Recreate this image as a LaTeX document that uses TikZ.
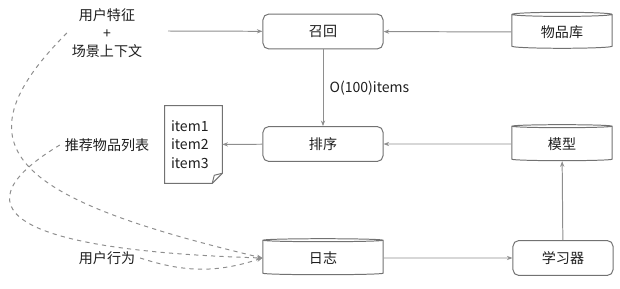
\documentclass[tikz,border=0pt]{standalone}
\usepackage{fontspec}
\setmainfont{Noto Sans CJK SC}
\usepackage{xcolor}
\definecolor{edgegray}{HTML}{727272}
\definecolor{linegray}{HTML}{8E8E8E}
\definecolor{txt}{HTML}{1E1E1E}
\usetikzlibrary{arrows.meta, positioning, shapes.geometric}

\begin{document}
\begin{tikzpicture}[
  x=0.025cm, y=-0.025cm,
  font=\fontsize{10}{13}\selectfont, text=txt,
  box/.style={rectangle, draw=edgegray, rounded corners=4pt, line width=0.7pt,
              minimum width=3cm, minimum height=0.87cm, align=center},
  db/.style={cylinder, shape border rotate=90, draw=edgegray, line width=0.7pt,
             minimum width=2.5cm, minimum height=0.9cm, aspect=0.08},
  arr/.style={-{Stealth[length=4pt, width=3pt]}, draw=linegray, line width=0.7pt},
  dasharr/.style={arr, dashed},
  note/.style={align=center},
]
\useasboundingbox (0,0) rectangle (620,289);

% main flow
\node[box] (recall) at (323,31.5) {召回};
\node[box] (rank) at (323,144) {排序};
\node[db] (itemdb) at (562,32) {物品库};
\node[db] (model) at (562,144) {模型};
\node[db, minimum width=3cm] (log) at (323,258) {日志};
\node[box, minimum width=2.5cm] (learner) at (563,258) {学习器};

% texts on the left
\node[note] (userfeat) at (107,33) {用户特征\\+\\场景上下文};
\node[note] (reclist) at (107,145) {推荐物品列表};
\node[note] (behav) at (107,258) {用户行为};
\coordinate (featout) at (168,31);

% the item list, a page with a folded corner
\node[align=left, inner sep=0pt, minimum width=57*0.025cm, minimum height=77*0.025cm,
      text width=45*0.025cm] (items) at (193.5,144.5) {item1\\item2\\item3};
\draw[edgegray, line width=0.7pt]
  (items.north west) -- (items.north east) -- ([yshift=10*0.025cm]items.south east)
  -- ([xshift=-10*0.025cm]items.south east) -- (items.south west) -- cycle;
\draw[edgegray, line width=0.7pt]
  ([yshift=10*0.025cm]items.south east) -- ([shift={(-8*0.025cm,8*0.025cm)}]items.south east)
  -- ([xshift=-10*0.025cm]items.south east);

\draw[arr] (featout) -- (recall);
\draw[arr] (itemdb) -- (recall);
\draw[arr] (recall) -- node[right, xshift=1pt]{O(100)items} (rank);
\draw[arr] (model) -- (rank);
\draw[arr] (rank) -- (items);
\draw[arr] (log) -- (learner);
\draw[arr] (learner) -- (model);

% feedback into the log
\draw[dasharr] (userfeat.west) .. controls (-50,150) and (20,200) .. (log.west);
\draw[dasharr] (reclist.west) .. controls (-40,205) and (0,250) .. (log.west);
\draw[dasharr] (behav.east) to[bend right=18] (log.west);
\end{tikzpicture}
\end{document}
